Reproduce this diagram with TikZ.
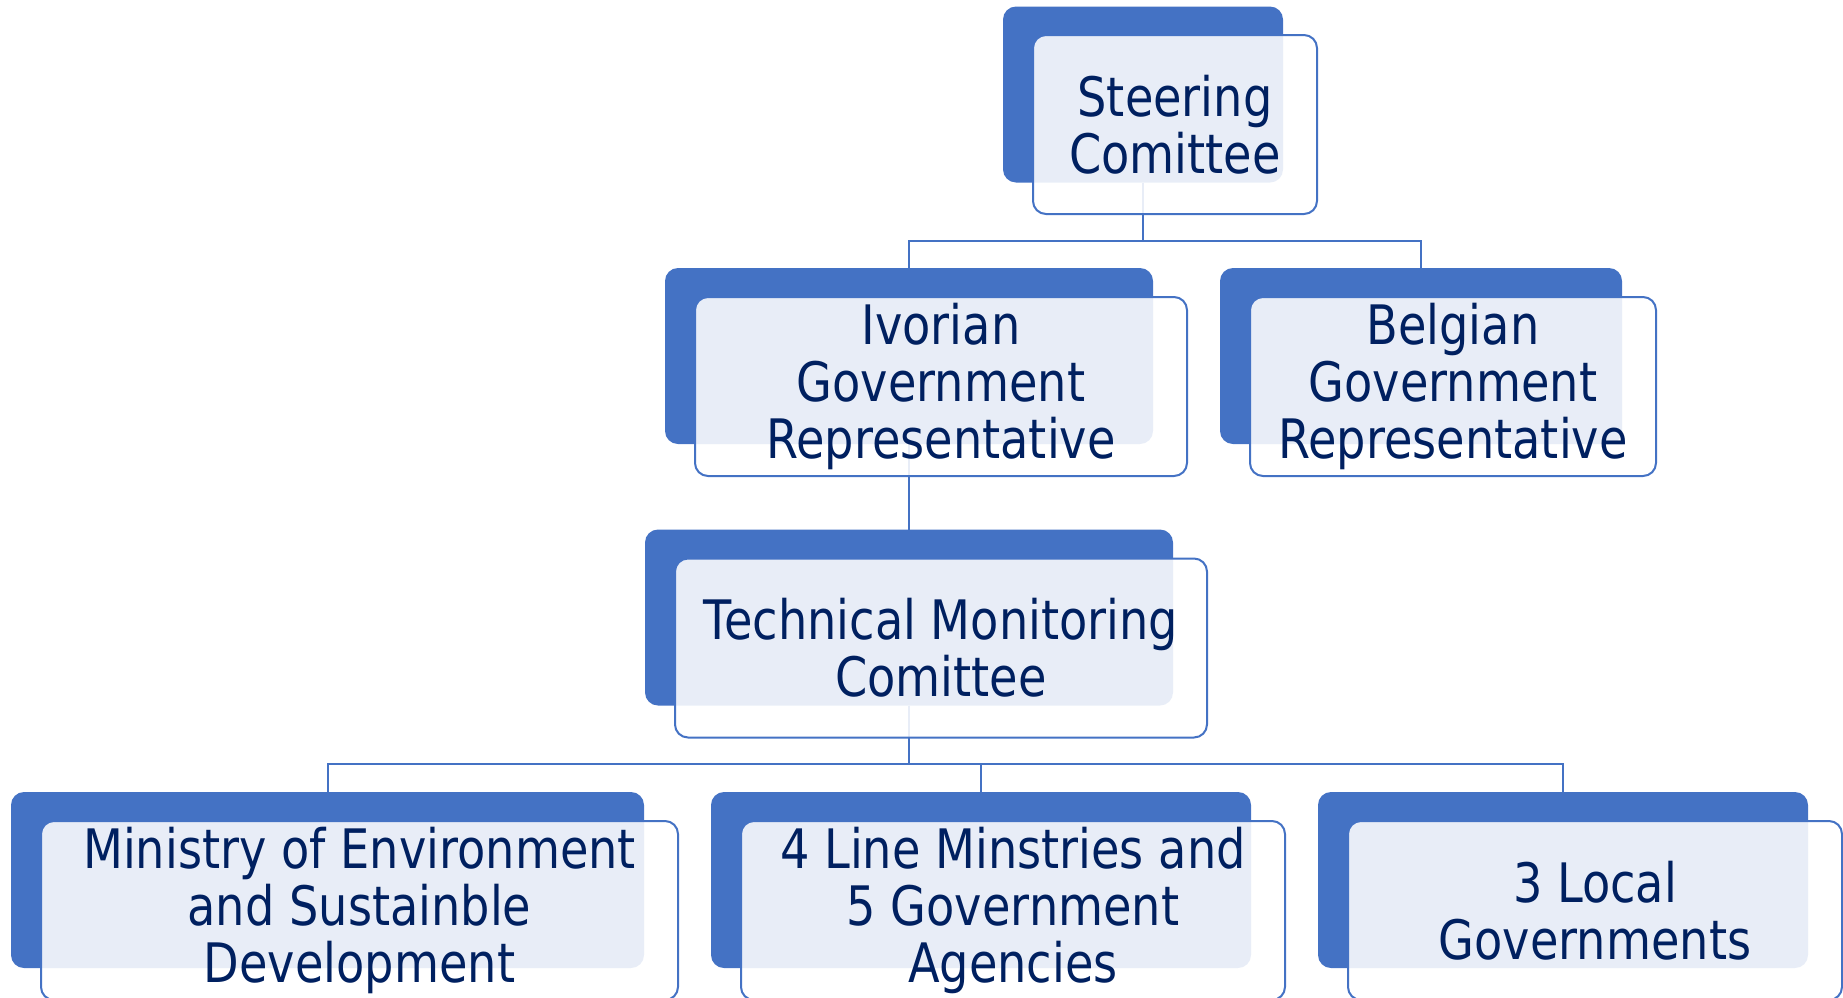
\documentclass[tikz,border=0pt]{standalone}
\usepackage{fontspec}
\setmainfont{DejaVu Sans}[FakeStretch=0.85]
\definecolor{accent}{HTML}{4472C4}
\definecolor{navy}{HTML}{002060}

\begin{document}
\begin{tikzpicture}[
    x=0.5pt, y=-0.5pt,
    back/.style={rectangle, rounded corners=6.5pt, fill=accent,
                 minimum height=88pt, inner sep=0pt, outer sep=0pt},
    front/.style={rectangle, rounded corners=6.5pt, draw=accent, line width=1pt,
                  fill=white, fill opacity=0.88, text opacity=1, text=navy,
                  minimum height=89.5pt, inner sep=0pt, align=center,
                  font=\fontsize{27.2pt}{28.5pt}\selectfont},
    link/.style={draw=accent, line width=1pt}
]
    \clip (0,0) rectangle (1843,997);
    \useasboundingbox (0,0) rectangle (1843,997);

    % Back panels
    \node[back, minimum width=140pt] (steerback) at (1143, 94.5) {};
    \node[back, minimum width=244pt] (ivoback) at (909, 356) {};
    \node[back, minimum width=201pt] (belback) at (1421, 356) {};
    \node[back, minimum width=264pt] (techback) at (909, 617.5) {};
    \node[back, minimum width=316.5pt] (minback) at (327.5, 880) {};
    \node[back, minimum width=270pt] (lineback) at (981, 880) {};
    \node[back, minimum width=245pt] (localback) at (1563, 880) {};

    % Connectors
    \coordinate (steerjoin) at (1143, 241);
    \draw[link] (steerback.south) -- (steerjoin) -| (ivoback.north);
    \draw[link] (steerjoin) -| (belback.north);
    \draw[link] (ivoback.south) -- (techback.north);
    \coordinate (techjoin) at (909, 764);
    \draw[link] (techback.south) -- (techjoin) -| (minback.north);
    \draw[link] (techjoin) -| (lineback.north);
    \draw[link] (techjoin) -| (localback.north);

    % Front panels with text
    \node[front, minimum width=142pt] (steer) at (1175, 124.5) {Steering\\Comittee};
    \node[front, minimum width=246pt] (ivo) at (941, 386.5) {Ivorian\\Government\\Representative};
    \node[front, minimum width=203pt] (bel) at (1453, 386.5) {Belgian\\Government\\Representative};
    \node[front, minimum width=266pt] (tech) at (941, 648) {Technical Monitoring\\Comittee};
    \node[front, minimum width=318.5pt] (min) at (359.5, 910.5) {Ministry of Environment\\and Sustainble\\Development};
    \node[front, minimum width=272pt] (line) at (1013, 910.5) {4 Line Minstries and\\5 Government\\Agencies};
    \node[front, minimum width=247pt] (local) at (1595, 910.5) {3 Local\\Governments};
\end{tikzpicture}
\end{document}
